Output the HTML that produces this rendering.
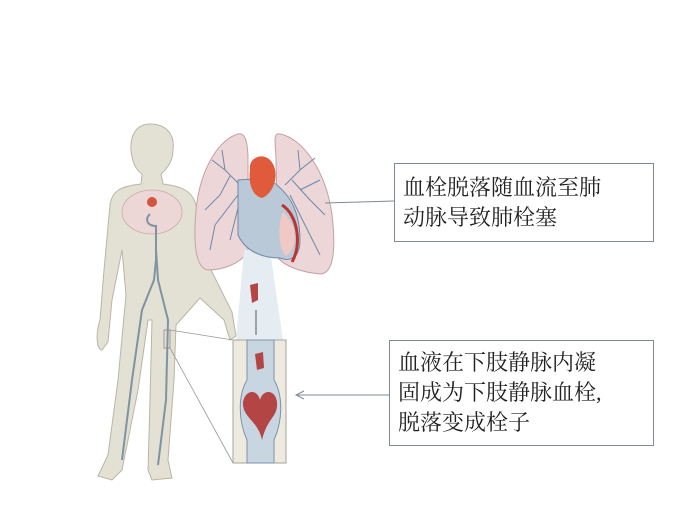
<!DOCTYPE html>
<html><head><meta charset="utf-8"><style>
html,body{margin:0;padding:0;background:#fff;width:700px;height:525px;overflow:hidden}
.box{position:absolute;border:1px solid #7f8a95;background:#fff;font-family:"Liberation Serif","Noto Serif CJK SC",serif;font-size:22px;line-height:30px;color:#222;padding:6px 8px;box-sizing:border-box}
</style></head><body>
<svg width="700" height="525" style="position:absolute;left:0;top:0">
<!-- body -->
<path d="M150,124 C136,124 130,136 131,150 C132,162 136,170 142,174 L141,184 C122,186 112,190 110,205 L104,270 L100,320 C95,335 97,350 102,350 L108,342 L112,300 L122,250 L126,295 L118,380 L108,455 L98,476 L112,480 L122,470 L138,390 L148,320 L152,320 L150,400 L148,470 L152,480 L172,478 L168,460 L174,380 L176,325 L200,298 L224,320 L230,340 L236,336 L232,312 L212,272 L200,240 L196,205 C192,190 180,186 163,184 L161,174 C168,168 173,160 173,150 C175,134 166,124 150,124 Z" fill="#e3e1d3" stroke="#b9b6a5" stroke-width="1"/>
<ellipse cx="152" cy="212" rx="30" ry="22" fill="#ecd6d6" stroke="#c9aaaa" stroke-width="0.8"/>
<circle cx="152" cy="202" r="5" fill="#d2553f"/>
<path d="M150,214 C144,220 148,226 156,226 L156,260 L154,280 L142,310 L132,380 L122,460" stroke="#7f93a3" stroke-width="2" fill="none"/>
<path d="M156,250 L158,280 L168,320 L166,400 L158,465" stroke="#7f93a3" stroke-width="2" fill="none"/>
<rect x="164" y="330" width="6" height="18" fill="none" stroke="#8a8a8a" stroke-width="0.8"/>
<line x1="170" y1="330" x2="233" y2="340" stroke="#999" stroke-width="0.8"/>
<line x1="170" y1="348" x2="233" y2="463" stroke="#999" stroke-width="0.8"/>
<!-- lungs -->
<path d="M238,134 C218,140 200,170 196,210 C193,245 196,268 208,270 C222,270 240,264 248,252 L248,160 C248,145 246,132 238,134 Z" fill="#ecd6d7" stroke="#c4a0a6" stroke-width="1"/>
<path d="M280,134 C302,138 326,170 332,215 C336,248 334,274 320,274 C300,272 285,266 278,258 L276,160 C276,145 272,132 280,134 Z" fill="#ecd6d7" stroke="#c4a0a6" stroke-width="1"/>
<g stroke="#6f88a8" stroke-width="1" fill="none">
<path d="M240,185 L225,170 L212,160 M230,176 L220,195 L205,210 M238,195 L215,225 L210,250 M240,200 L230,240 M225,170 L222,150"/>
<path d="M285,185 L300,170 L315,158 M292,180 L310,200 L325,215 M290,195 L310,235 L320,255 M300,190 L320,180 M300,170 L298,150"/>
</g>
<!-- vena cava stripe -->
<polygon points="244,250 270,250 283,340 236,340" fill="#e6edf2"/>
<!-- heart -->
<path d="M238,180 L268,178 C285,190 300,205 300,240 C300,258 290,262 280,258 C260,258 245,250 238,235 Z" fill="#b9c9d8" stroke="#6f88a8"/>
<path d="M250,170 C248,158 262,152 270,160 C280,170 276,192 262,198 C252,196 248,182 250,170 Z" fill="#e05b3b"/>
<path d="M283,212 C298,225 298,248 286,256 C280,250 276,230 283,212 Z" fill="#f0c9c4"/>
<path d="M282,205 C298,215 302,245 292,262" stroke="#c0322e" stroke-width="3" fill="none"/>
<!-- clot in transit -->
<polygon points="250,285 258,283 258,300 252,303" fill="#b34545"/>
<line x1="256" y1="335" x2="256" y2="310" stroke="#333" stroke-width="0.8"/>
<!-- vein panel -->
<rect x="233" y="340" width="53" height="123" fill="#eeeadf" stroke="#a5a59a"/>
<path d="M247,340 L247,380 C238,395 238,420 247,440 L247,463 L274,463 L274,440 C283,420 283,395 274,380 L274,340 Z" fill="#c8d6e2" stroke="#7b93ab"/>
<polygon points="255,354 263,352 264,368 257,370" fill="#b34545"/>
<path d="M243,402 C246,388 258,390 260,400 C262,390 275,388 277,402 C278,418 268,416 262,440 C258,420 242,418 243,402 Z" fill="#b34545"/>
<!-- connectors -->
<line x1="325" y1="203" x2="394" y2="201" stroke="#7f8a95" stroke-width="1"/>
<line x1="296" y1="395" x2="389" y2="395" stroke="#7f8a95" stroke-width="1"/>
<polyline points="304,391 296,395 304,399" fill="none" stroke="#7f8a95" stroke-width="1"/>
</svg>
<div class="box" style="left:394px;top:163px;width:260px;height:79px;padding-top:9px">血栓脱落随血流至肺<br>动脉导致肺栓塞</div>
<div class="box" style="left:389px;top:340px;width:265px;height:106px;padding-top:7px">血液在下肢静脉内凝<br>固成为下肢静脉血栓,<br>脱落变成栓子</div>
</body></html>
